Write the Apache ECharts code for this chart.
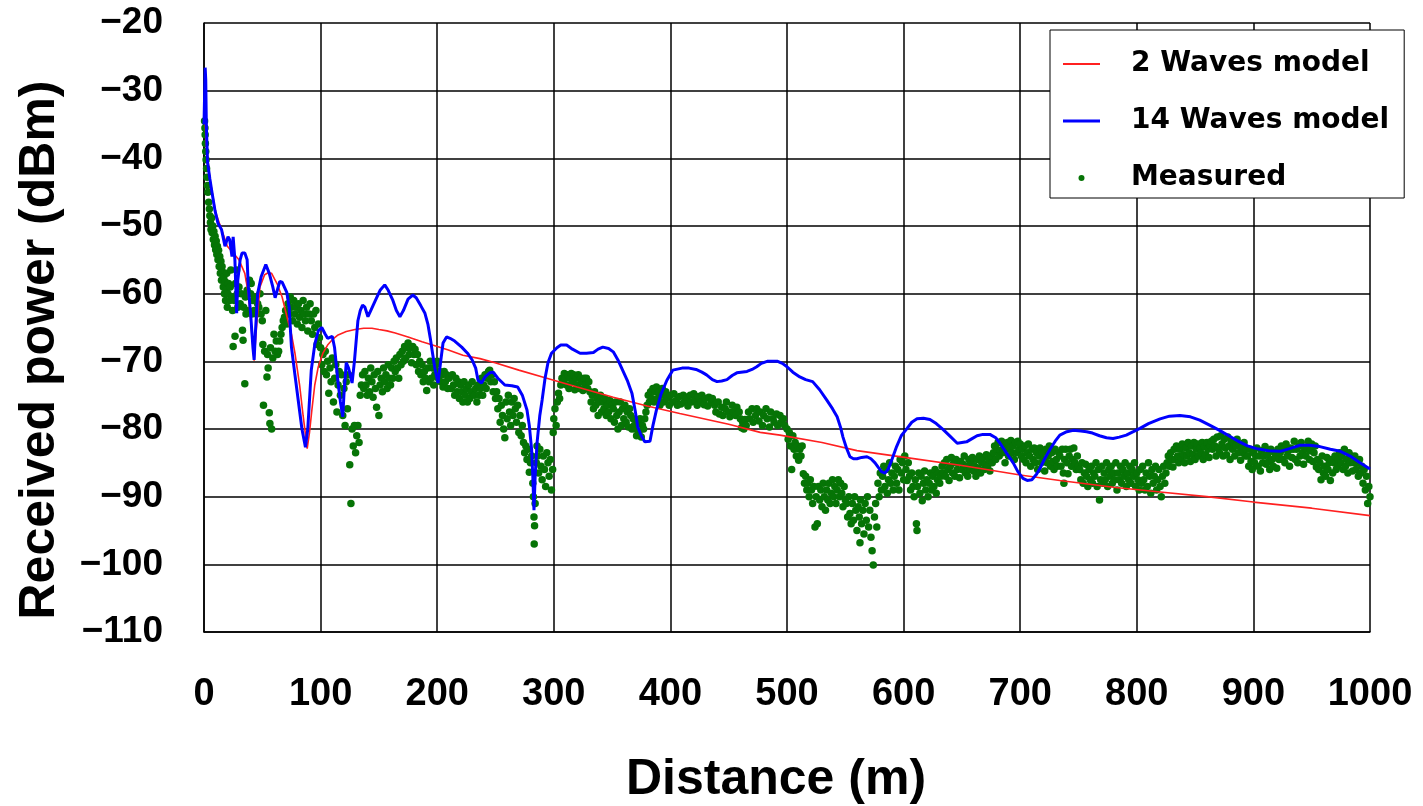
<!DOCTYPE html>
<html>
<head>
<meta charset="utf-8">
<script src="https://cdn.jsdelivr.net/npm/echarts@6/dist/echarts.min.js"></script>
<style>
  html, body { margin: 0; padding: 0; background: #fff; }
  #chart { width: 1423px; height: 806px; }
</style>
</head>
<body>
<div id="chart"></div>
<script>
// axis ticks
var xTicks = [0, 100, 200, 300, 400, 500, 600, 700, 800, 900, 1000];
var yTicks = [-110, -100, -90, -80, -70, -60, -50, -40, -30, -20];

// 2 waves model
var dist2 = [0.5, 2, 5, 10, 15, 20, 25, 30, 35, 38, 41, 43, 45, 48, 52, 55, 58, 62.6, 67, 72, 75, 78, 82, 85, 88.5, 90.5, 92.5, 95, 98,
  102, 106, 110, 115, 122, 129.5, 137, 144, 150, 157, 164, 175, 187, 198, 209, 222, 236.7, 249.6, 270, 294, 320, 351, 380, 408,
  450, 477, 494, 530, 560, 605.5, 650, 700, 734, 780, 820, 860, 900, 950, 1000];
var pow2 = [-33, -38, -43, -48, -50.5, -53, -54, -55, -57, -60, -66, -69.9, -65, -59, -57.2, -56.9, -57, -58.5, -60.5, -64, -66, -68.8, -73.5, -78, -82.9, -80.5, -77.2, -73.5, -70.8,
  -68.8, -67.6, -66.8, -66.1, -65.6, -65.3, -65.1, -65.1, -65.3, -65.5, -65.8, -66.4, -67.1, -67.7, -68.3, -69.1, -69.6, -70.2, -71.3, -72.5, -73.8, -75.3, -76.6, -77.7,
  -79.3, -80.5, -80.9, -82, -83.2, -84.3, -85.4, -86.8, -87.6, -88.6, -89.3, -90, -90.8, -91.7, -92.8];

// 14 waves model
var dist14 = [0, 1, 1.5, 2, 3, 5, 7, 9.4, 12, 15, 18, 20.6, 22, 24, 25, 26.5, 28, 29, 31, 32.6, 35, 37, 38, 40, 42, 43, 44, 46, 49, 53, 56, 59, 61, 65, 67, 71, 73, 75, 78, 81, 84, 87, 89, 92, 95, 98,
  101, 104, 106, 110, 112, 115, 117, 119, 120, 122, 124, 127, 129, 132, 134, 136, 138, 140.6, 143, 147, 151, 155, 158, 162, 165, 168, 171, 175, 179, 182, 186, 189.5, 192, 194, 196, 198,
  200.7, 203, 205, 208, 211, 215, 221, 226, 230, 233, 235, 238, 241, 245, 248, 252, 258, 264, 269, 273, 277, 279, 281, 282, 283, 284, 285.6, 288, 290, 292.5, 295, 298,
  302.7, 306, 311, 316, 322.5, 328, 334, 338, 342, 347, 351, 355, 359, 363, 367, 370, 372, 375, 378, 382.5, 385, 388, 392, 397,
  402, 410, 416, 422, 427, 431, 436, 440, 444, 448.5, 453, 457, 465.7, 470, 474, 478, 483, 487, 492, 496,
  500, 505, 511, 516, 522, 528, 534, 539, 543, 546, 548, 551, 554, 557, 560, 564, 568.6, 572, 575.5, 578, 581, 584, 586.6, 590, 594, 598,
  603, 607, 611.5, 617, 622.6, 628, 634, 640, 646, 650, 654, 658, 663, 668, 674, 679, 682.7, 688, 694, 698,
  702.4, 706, 710, 714, 717, 721, 725.6, 730, 734, 740, 745.6, 752, 757, 762, 768, 774, 779.6, 785, 791, 797,
  802.7, 810, 820, 828, 837, 846, 854, 862, 871, 880, 888, 895, 902.7, 913, 923, 931, 940, 948, 957, 966, 974.6, 983, 991.4, 1000];
var pow14 = [-35, -26.6, -28.4, -35, -40.5, -43, -45.2, -47.7, -49.6, -50.5, -53, -51.6, -52, -54.5, -51.6, -55, -62.9, -58, -55, -54, -54, -55, -59, -63, -68, -69.8, -66, -60, -57.5, -55.7, -57, -59, -60.6, -58.2, -58.3, -59.8, -62, -67.9, -72, -76, -80, -82.7, -80, -71.3, -67.5, -65.5,
  -65, -66, -66.6, -66.3, -68, -73.2, -76, -78.2, -75, -70.2, -71, -73.2, -70, -64, -62.5, -61.7, -62, -63.4, -62.5, -61, -59.5, -58.7, -59.5, -61, -62.5, -63.4, -62.5, -60.8, -60.2, -60.6, -61.8, -62.9, -64.5, -66.5, -68.8, -71,
  -73.2, -70, -67.3, -66.4, -66.6, -67, -67.9, -68.8, -69.8, -71, -72.8, -73.2, -72.3, -71.7, -71.6, -72.5, -73.5, -73.6, -73.8, -75, -77.2, -79.5, -83.1, -87, -92, -87, -82.1, -78, -75.7, -72.5, -70.2, -68.8,
  -68, -67.6, -67.6, -68.2, -68.8, -68.8, -68.7, -68.2, -67.9, -68.1, -68.6, -69.8, -71.3, -72.8, -74.7, -77.5, -79.7, -81, -81.9, -81.8, -79.5, -77.2, -74.8, -72.8,
  -71.3, -71, -71, -71.2, -71.6, -72, -72.7, -73, -72.9, -72.7, -72.1, -71.7, -71.5, -71.2, -70.8, -70.3, -70, -70, -70, -70.3,
  -70.8, -71.6, -72.3, -72.7, -73, -74.2, -75.7, -77, -78.2, -79.8, -81.2, -82.8, -84.1, -84.4, -84.4, -84.2, -84.1, -84.4, -85, -85.6, -86.3, -86.5, -86, -84.5, -82.6, -81,
  -79.9, -79, -78.5, -78.4, -78.6, -79.2, -80.1, -81.1, -82.1, -82, -81.9, -81.5, -81, -80.8, -80.8, -81.3, -82.1, -83.5, -85, -86.3,
  -87.3, -87.6, -87.5, -86.7, -85.8, -84.4, -83, -81.8, -80.9, -80.4, -80.2, -80.3, -80.4, -80.6, -81, -81.3, -81.4, -81.2, -80.9, -80.4,
  -79.9, -79.2, -78.5, -78.1, -78, -78.2, -78.7, -79.4, -80.2, -81.1, -81.9, -82.5, -82.9, -83.2, -83.3, -82.9, -82.4, -82.4, -82.6, -83, -83.3, -84, -85, -85.9];

// measured points [distance, power]
var measured = [
  [0.5,-34.5],[0.8,-35.5],[1,-36.5],[1.2,-37.8],[1.5,-39],[1.8,-40.2],[2.2,-41.5],[2.6,-42.8],[3,-44],[3.4,-45],[4,-46.5],[4.6,-47.5],[5,-48.5],
  [5.5,-49.5],[6,-50.5],[6.5,-48.8],[7,-51],[7.5,-50],[8,-52],[8.5,-50.8],[9,-52.8],[9.5,-51.5],[10,-53.5],[10.5,-52.2],[11,-54.2],[11.5,-53],[12,-55],[12.5,-53.6],[13,-56],[13.5,-54.5],[14,-57],[14.5,-55.2],[15,-58],[15.5,-56],[16,-56.8],[16.5,-59],[17,-57.5],[17.5,-60],[18,-58.2],[18.5,-61],[19,-59.5],[19.5,-57],[20,-62],[20.5,-60],[21,-58.5],[22,-61],[22.5,-59],[23,-56.5],[24,-60.5],[24.5,-62.5],[25,-67.8],[26,-61],[26.6,-66.3],[27,-58.5],[28,-56.5],[28.5,-60],[29,-62],[30,-59],
  [31,-61.5],[32,-60],[33,-65.4],[33.5,-66.9],[34,-62],[35,-73.3],[35.5,-60.5],[36,-63],[37,-59.5],[38,-62.5],[39,-58],[40,-60],[40.5,-58.5],[41,-63],[42,-61],[43,-62.5],[44,-60.5],[45,-63],[46,-61.5],[47,-62],[48,-60],[49,-63],[50,-64],[50.5,-67.5],[51,-76.5],[52,-68.5],[53,-62.5],[54,-72.3],[54.5,-69],[55,-71],[56,-77.6],[56.5,-79.2],[57,-68],[58,-80],[59,-69.5],[60,-66],[61,-68.5],[62,-67],[63,-69],
  [64,-68.5],[65,-67],[66,-66],[67,-65],[68,-64],[69,-63.5],[70,-62.5],[71,-64.5],[72,-61.5],[73,-63],[74,-60.5],[75,-62],[76,-64],[77,-61],[78,-63],[79,-62],[80,-64.5],[81,-61.5],[82,-63.5],[83,-62.5],[84,-65],[85,-61],[86,-63],[87,-64],[88,-62],[89,-65.5],[90,-63],[91,-61.5],[92,-64],[93,-66],[94,-63],[95,-65],[96,-62.5],[97,-67.5],[98,-64.5],[99,-66.5],
  [100,-68],[101,-70.5],[102,-69],[103,-71.5],[104,-68.5],[105,-72],[106,-70],[107,-74.7],[108,-71],[109,-73],[110,-69.5],[111,-76],[112,-72.5],[113,-70.5],[114,-77.5],[115,-73.5],[116,-71.5],[117,-75],[118,-72],[119,-78],[120,-74],[121,-79.5],[122,-73],[123,-77],[124,-72],[125,-85.3],[126,-91],[127,-80],[128,-82.5],[129,-79.5],[130,-83.5],[131,-81],[132,-79.5],[133,-82],[134,-75],[135,-73.5],
  [136,-72],[137,-74],[138,-71.5],[139,-73.5],[140,-75],[141,-72.5],[142,-74.5],[143,-71],[144,-73],[145,-75.3],[146,-72],[147,-74],[148,-76.8],[149,-71.5],[150,-78],[151,-73.5],[152,-72.5],[153,-74.5],[154,-71],[155,-73],[156,-72],[157,-74],[158,-70.5],[159,-72.5],[160,-73.5],[161,-71],[162,-72.5],[163,-70],[164,-71.5],[165,-69.5],[166,-71],[167,-72.5],[168,-69],[169,-70.5],
  [170,-68.5],[171,-70],[172,-67.8],[173,-69.5],[174,-68],[175,-67.3],[176,-69],[177,-68],[178,-70.2],[179,-67.8],[180,-69],[181,-68.2],[182,-70.5],[183,-69],[184,-71.5],[185,-70],[186,-72],[187,-70.5],[188,-73],[189,-71.5],[190,-72.5],[191,-74.3],[192,-71],[193,-73],[194,-70],[195,-72.5],[196,-71],[197,-73.5],[198,-72],[199,-70.5],[200,-70],[201,-72.5],[202,-71.5],[203,-73],[204,-72],[205,-73.8],[206,-71.5],[207,-73],[208,-72],[209,-74],
  [210,-72.5],[212,-74],[213,-72],[214,-73.5],[215,-75],[216,-72.5],[217,-74.5],[218,-73],[219,-75.5],[220,-73.5],[221,-74.5],[222,-76],[223,-73],[224,-75],[225,-74],[226,-76],[227,-73.5],[228,-75.5],[229,-74.5],[230,-73],[232,-75],[233,-74],[234,-76],[235,-73.5],[236,-75],[237,-74],[238,-72.5],[239,-75],[240,-73.5],[241,-72],[242,-74],[243,-72.5],[244,-71.5],[245,-71.3],[246,-73],[247,-72],[248,-74.5],[249,-73],[250,-75.5],
  [251,-74.5],[252,-77],[253,-75.5],[254,-79],[255,-76.5],[256,-78],[257,-80],[258,-81.3],[259,-76],[260,-78.5],[261,-75],[262,-77.5],[263,-79.5],[264,-76],[265,-78],[266,-75.5],[267,-77],[268,-79],[269,-76.5],[270,-80.5],[271,-78],[272,-81],[273,-79.5],
  [274,-82],[275,-83.5],[276,-82.5],[277,-84.5],[278,-83],[279,-86.4],[280,-85],[281,-84],[282,-88],[282.5,-90],[283,-93],[283.5,-94.3],[283.2,-97],[284,-91],[285,-85],[285.6,-82.5],[286,-84],[287,-86.5],[288,-83],[289,-85.5],[290,-87.5],[291,-84],[292,-86],[293,-88.5],[294,-83.5],[295,-85],[296,-87],[297,-84.5],[298,-89],[299,-86],
  [299.5,-80.5],[300,-78.5],[301,-77],[302,-79.5],[303,-76],[304,-74.7],[305,-75.5],
  [306,-73.5],[307,-72.5],[308,-73],[309,-71.8],[310,-72.5],[311,-73.5],[312,-72],[313,-74],[314,-72.5],[315,-71.8],[316,-73],[317,-72],[318,-74.2],[319,-72.5],[320,-73.5],[321,-72],[322,-74],[323,-72.5],[324,-73],[325,-74.3],[326,-72.5],[327,-73.5],[328,-72.5],[329,-74],[330,-73],
  [331,-74.5],[332,-76],[333,-75],[334,-77],[335,-74.5],[336,-76.5],[337,-75.5],[338,-78],[339,-76],[340,-75],[341,-77.5],[342,-76],[343,-77],[344,-75.5],[345,-78],[346,-76.5],[347,-77.5],[348,-75.8],[349,-78.5],[350,-76.5],
  [351,-77],[352,-79],[353,-76],[354,-78],[355,-80],[356,-77.5],[357,-76],[358,-79.5],[359,-77],[360,-78.5],[361,-76.5],[362,-79],[363,-77.5],[364,-79.7],[365,-77],[366,-78],[367,-80],[368,-78.5],[369,-79.5],
  [370,-80],[371,-81],[372,-79],[373,-80.5],[374,-78.5],[375,-81.2],[376,-79.5],[377,-80],[378,-78.5],[379,-77.5],
  [380,-76.5],[381,-75],[382,-76],[383,-74.5],[384,-75.5],[385,-74],[386,-76],[387,-74.5],[388,-73.8],[389,-75.5],[390,-74.5],[391,-76.5],[392,-75],[393,-74],[394,-76],[395,-75],[396,-74.5],
  [397,-75.5],[399,-76.5],[400,-75],[402,-76],[403,-74.8],[405,-75.8],[406,-76.5],[408,-75.2],[409,-76.3],[411,-75],[412,-76],[414,-75.3],[415,-76.6],[417,-75],[418,-76],[420,-74.8],[421,-75.8],[423,-76.5],[424,-75.2],[426,-76],[427,-75],[429,-76.4],[430,-75.5],[432,-76.6],[433,-75.3],[435,-76],[436,-75.5],
  [438,-76.5],[439,-77.5],[441,-76],[442,-77.8],[444,-76.8],[445,-78],[447,-77],[448,-76],[450,-77.5],[451,-78.2],[453,-76.5],[454,-77.5],[456,-78],[457,-76.8],[459,-77.5],
  [460,-78.5],[461,-79.8],[462,-79],[463,-80],[464,-78.6],[465,-79.5],
  [467,-77.5],[468,-78.5],[470,-77],[471,-79],[473,-78],[474,-77],[476,-78.8],[477,-77.5],[479,-79.5],[480,-78],[482,-77],[483,-78.5],[485,-79.7],[486,-77.5],[488,-78.5],[489,-79],[491,-77.8],[492,-79.5],[494,-78],[495,-79],[497,-78.5],[498,-79.5],
  [500,-80],[501,-81.5],[502,-80.5],[503,-82.5],[504,-86],[505,-81],[506,-83],[507,-82],[508,-84],[509,-82.5],[510,-84.6],[511,-83],[512,-84],[513,-82.5],
  [514,-86.6],[515,-88],[516,-87],[517,-89],[518,-88],[519,-90],[520,-87.5],[521,-89],[522,-91],[523,-88.5],[524,-94.5],[525,-90],[526,-94],[527,-88.5],[528,-90.5],[529,-89],[530,-91.5],[531,-88],[532,-90],[533,-92],[534,-89],[535,-90.5],[536,-88],[537,-91],[538,-89.5],[539,-87.5],[540,-90],[541,-88.5],[542,-91],[543,-89],[544,-87.5],[545,-90],[546,-88],[547,-89.5],[548,-91.5],[549,-88.5],[550,-90.5],
  [551,-91],[552,-93],[553,-90],[554,-92.5],[555,-94],[556,-91],[557,-93.5],[558,-90],[559,-92],[560,-95],[561,-91.5],[562,-93],[562.6,-96.8],[563,-90.5],[564,-94],[565,-92],[566,-95.5],[567,-91],[568,-93.5],[569,-90],[570,-94.5],[571,-92],[572,-96],[573,-98],[574,-100.1],[575,-93],[576,-91],[577,-94.5],
  [578,-88],[579,-90],[580,-86.5],[581,-89],[582,-87],[583,-85.5],[584,-88.5],[585,-86],[586,-89.5],[587,-87.5],[588,-85],[589,-88],[590,-86.5],[591,-89],[592,-87],[593,-85.5],[594,-88],[595,-86],[596,-89],[597,-84.5],[598,-86.5],[599,-85],[600,-87.5],[601,-84],[602,-86],[603,-87.6],[604,-85],
  [605,-87],[606,-89],[607,-86.5],[608,-88.5],[609,-90],[610,-87.5],[611,-94],[611.5,-95],[612,-88.5],[613,-86.5],[614,-89.5],[615,-87],[616,-90.6],[617,-88],[618,-86.2],[619,-89],[620,-87.5],[621,-90],[622,-88],[623,-86.5],[624,-89],[625,-87],[626,-88.5],[627,-86],[628,-89.5],[629,-87.5],[630,-86.5],[631,-88],[632,-87],[633,-85.5],
  [634,-86.5],[635,-85],[636,-87],[637,-84.5],[638,-86],[639,-87.6],[640,-85.5],[641,-84.2],[642,-86.5],[643,-85],[644,-87],[645,-84.5],[646,-86],[647,-85],[648,-87.2],[649,-84.8],[650,-86],[651,-85.2],[652,-84],[653,-86.5],[654,-85.5],[655,-87],[656,-84.5],[657,-86],[658,-85],[659,-84.2],[660,-86.2],[661,-85.5],[662,-87],[663,-84.5],[664,-85.8],[665,-84],[666,-86.5],[667,-85],[668,-84.2],[669,-86],[670,-85.2],[671,-83.8],[672,-85.5],[673,-84.5],[674,-86.2],[675,-84],[676,-85],
  [677,-83.5],[678,-82.5],[679,-84.5],[680,-83],[681,-82],[682,-84],[683,-83.2],[684,-81.8],[685,-83.5],[686,-82.5],[687,-85],[688,-83],[689,-82],[690,-84],[691,-82.8],[692,-81.7],[693,-83.5],[694,-82.5],[695,-84.5],[696,-82],[697,-83.5],[698,-81.8],[699,-83],[700,-82.2],[701,-84],
  [702,-83],[703,-84.5],[704,-82.5],[705,-85],[706,-83.5],[707,-82.2],[708,-84],[709,-85.5],[710,-83],[711,-84.5],[712,-82.8],[713,-85],[714,-83.5],[715,-86],[716,-84],[717,-82.8],[718,-85],[719,-83.5],[720,-84.5],[721,-86.2],[722,-83],[723,-85],[724,-84],[725,-82.5],[726,-85.5],[727,-83.5],[728,-84.8],[729,-86],[730,-83],[731,-84.5],[732,-85.5],[733,-83.5],
  [734,-84],[735,-85.5],[736,-83],[737,-86.5],[737.5,-88],[738,-84.5],[739,-83],[740,-85],[741,-86.6],[742,-84],[743,-83],[744,-85.5],[745,-84.5],[746,-82.8],[747,-85],[748,-86],[749,-84],[750,-85.5],
  [751,-86],[752,-87.5],[753,-85],[754,-88],[755,-86.5],[756,-85.2],[757,-87],[758,-88.5],[759,-86],[760,-87.5],[761,-85.5],[762,-88],[763,-86.5],[764,-87],[765,-85],[766,-88.5],[767,-86],[768,-90.5],[769,-87.5],[770,-85.5],[771,-88],[772,-86.5],[773,-87.5],[774,-85],[775,-88.5],[776,-86],[777,-87],[778,-85.5],[779,-88],[780,-86.5],[781,-87.5],[782,-85],[783,-89],[784,-86.5],[785,-87.5],[786,-85.5],[787,-88],[788,-86],[789,-87],[790,-85],[791,-88.5],[792,-86.5],[793,-87.5],[794,-85.5],[795,-88],[796,-86],[797,-87],[798,-85],[799,-88.5],[800,-86.5],[801,-87.5],[802,-89],
  [803,-86],[804,-88],[805,-85.5],[806,-87.5],[807,-89],[808,-86.5],[809,-88.5],[810,-85],[811,-87],[812,-89.5],[813,-86],[814,-88],[815,-87],[816,-85.5],[817,-89],[818,-87.5],[819,-86],[820,-88.5],[821,-90],[822,-87],[823,-85.5],[824,-88],[825,-86.5],
  [826,-85],[827,-84],[828,-85.5],[829,-83.5],[830,-84.5],[831,-85.6],[832,-83],[833,-84.5],[834,-82.5],[835,-84],[836,-85],[837,-83],[838,-84.2],[839,-82.2],[840,-83.8],[841,-85],[842,-82.8],[843,-84],[844,-82],[845,-83.5],[846,-84.8],[847,-82.5],[848,-83.8],[849,-82],[850,-84.5],[851,-83],[852,-82.2],[853,-84],[854,-82.8],[855,-83.5],[856,-82],[857,-84.5],[858,-82.6],[859,-83.8],[860,-82],[861,-83],[862,-84.2],[863,-82.5],[864,-81.8],
  [865,-83],[866,-81.5],[867,-82.5],[868,-84],[869,-81.2],[870,-82.8],[871,-83.5],[872,-81],[873,-82.2],[874,-84],[875,-81.5],[876,-82.8],[877,-83.8],[878,-81.2],[879,-82.5],[880,-84.5],[881,-81.8],[882,-83],[883,-82],[884,-84],[885,-82.5],[886,-81.5],[887,-83.5],[888,-82.2],[889,-84.6],[890,-82.8],[891,-83.5],[892,-82],[893,-84],[894,-83],
  [895,-84],[896,-85.5],[897,-83],[898,-84.8],[899,-86],[900,-83.5],[901,-85],[902,-84],[903,-82.8],[904,-85.5],[905,-84],[906,-86.2],[907,-83.2],[908,-85],[909,-84],[910,-82.6],[911,-85.2],[912,-83.8],[913,-84.8],[914,-86],[915,-83],[916,-84.5],[917,-85.5],[918,-83.5],[919,-84.2],[920,-85.8],[921,-83],[922,-84.5],
  [923,-83.5],[924,-82.5],[925,-84.5],[926,-83],[927,-85],[928,-82.2],[929,-84],[930,-83.2],[931,-85.5],[932,-82.8],[933,-84.2],[934,-83],[935,-81.8],[936,-84.5],[937,-83],[938,-85],[939,-82.5],[940,-84],[941,-82],[942,-83.5],[943,-85.2],[944,-82.8],[945,-84],[946,-83],[947,-81.8],[948,-84.5],[949,-83.2],[950,-82.2],[951,-84.8],[952,-83.5],[953,-82.5],[954,-85.6],
  [955,-84.5],[956,-86],[957,-85],[958,-87.5],[959,-84],[960,-86.5],[961,-85.5],[962,-87],[963,-84.2],[964,-86],[965,-85],[966,-87.6],[967,-84.5],[968,-86.5],[969,-85],[970,-84],[971,-86],[972,-85.5],[973,-84.5],
  [974,-83.5],[975,-85],[976,-84],[977,-86],[978,-83],[979,-85.5],[980,-84.5],[981,-86.5],[982,-83.5],[983,-85],[984,-84],[985,-86.2],[986,-85],[987,-84],[988,-86],[989,-85],[990,-87],[991,-84.5],[992,-86.5],[993,-85.5],[994,-88],[995,-86],[996,-89],[997,-87],[998,-91],[999,-88.5],[1000,-90]
];

var chart = echarts.init(document.getElementById('chart'));

var tickFont = 'Liberation Sans, Arial, sans-serif';

var option = {
  animation: false,
  backgroundColor: '#fff',
  grid: { left: 204, top: 23, right: 53, bottom: 174, containLabel: false },
  legend: {
    orient: 'vertical',
    left: 1050,
    top: 30,
    padding: [19, 15, 5, 13],
    itemGap: 27,
    itemWidth: 37,
    itemHeight: 14,
    backgroundColor: '#fff',
    borderColor: '#000',
    borderWidth: 1,
    textStyle: {
      fontFamily: 'DejaVu Sans, sans-serif',
      fontWeight: 'bold',
      fontSize: 28,
      color: '#000',
      lineHeight: 30,
      padding: [0, 0, 0, 26]
    },
    data: [
      { name: '2 Waves model', icon: 'path://M0,0M37,14M0,6h37v2h-37Z' },
      { name: '14 Waves model', icon: 'path://M0,0M37,14M0,5.5h37v3h-37Z' },
      { name: 'Measured', icon: 'path://M0,0M37,14M15.5,7a3,3,0,1,0,6,0a3,3,0,1,0,-6,0Z' }
    ]
  },
  xAxis: {
    type: 'value',
    min: 0,
    max: 1000,
    interval: 100,
    axisLine: { show: true, lineStyle: { color: '#000', width: 1.5 } },
    axisTick: { show: false },
    splitLine: { show: true, lineStyle: { color: '#000', width: 1.5 } },
    axisLabel: {
      margin: 44,
      fontFamily: tickFont,
      fontWeight: 'bold',
      fontSize: 38,
      color: '#000',
      showMinLabel: true,
      showMaxLabel: true,
      formatter: function (v) { return String(v); }
    }
  },
  yAxis: {
    type: 'value',
    min: -110,
    max: -20,
    interval: 10,
    axisLine: { show: true, lineStyle: { color: '#000', width: 1.5 } },
    axisTick: { show: false },
    splitLine: { show: true, lineStyle: { color: '#000', width: 1.5 } },
    axisLabel: {
      margin: 41,
      fontFamily: tickFont,
      fontWeight: 'bold',
      fontSize: 37,
      color: '#000',
      formatter: function (v) { return (v < 0 ? '\u2212' : '') + Math.abs(v); }
    }
  },
  graphic: [
    {
      type: 'text',
      x: 40, y: 350,
      rotation: Math.PI / 2,
      style: {
        text: 'Received power (dBm)',
        fontFamily: tickFont,
        fontWeight: 'bold',
        fontSize: 50,
        fill: '#000',
        align: 'center',
        verticalAlign: 'middle'
      }
    },
    {
      type: 'text',
      x: 776, y: 780,
      style: {
        text: 'Distance (m)',
        fontFamily: tickFont,
        fontWeight: 'bold',
        fontSize: 50,
        fill: '#000',
        align: 'center',
        verticalAlign: 'middle'
      }
    }
  ],
  series: [
    {
      name: 'Measured',
      type: 'scatter',
      symbol: 'circle',
      symbolSize: 7.5,
      itemStyle: { color: '#067406', opacity: 1 },
      data: measured,
      z: 2
    },
    {
      name: '2 Waves model',
      type: 'line',
      symbol: 'none',
      lineStyle: { color: '#ff2020', width: 1.6 },
      itemStyle: { color: '#ff2020' },
      data: dist2.map(function (d, i) { return [d, pow2[i]]; }),
      z: 3
    },
    {
      name: '14 Waves model',
      type: 'line',
      symbol: 'none',
      lineStyle: { color: '#0000ff', width: 3 },
      itemStyle: { color: '#0000ff' },
      data: dist14.map(function (d, i) { return [d, pow14[i]]; }),
      z: 4
    }
  ]
};

chart.setOption(option);
</script>
</body>
</html>
